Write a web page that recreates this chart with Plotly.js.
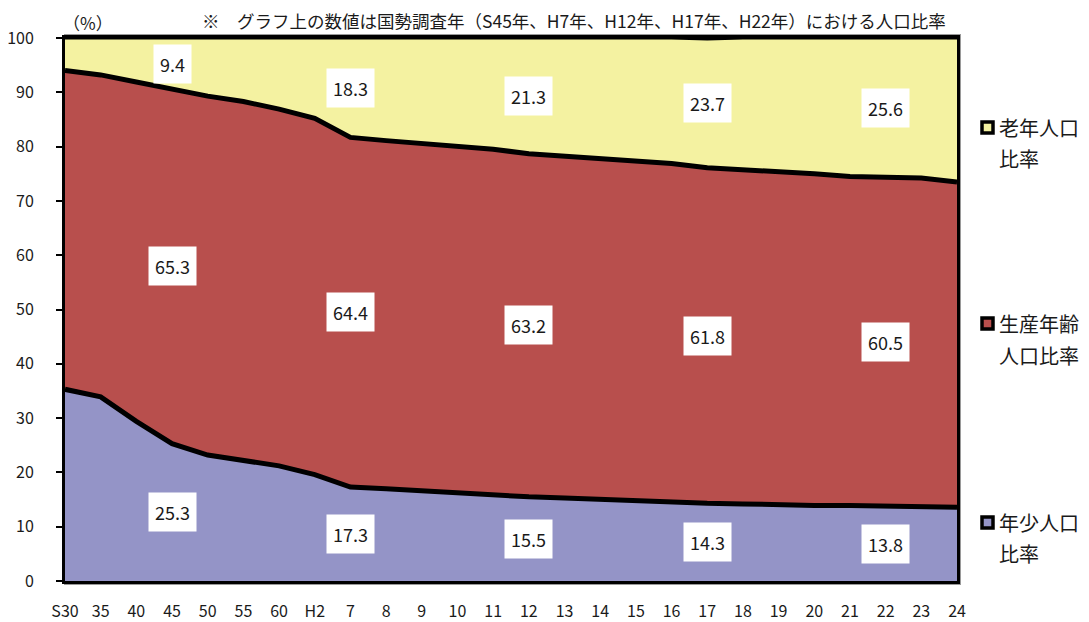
<!DOCTYPE html>
<html>
<head>
<meta charset="utf-8">
<script src="https://cdn.plot.ly/plotly-3.0.1.min.js"></script>
<style>html,body{margin:0;padding:0;background:#fff;}#chart{width:1089px;height:622px;}</style>
</head>
<body>
<div id="chart"></div>
<script>
// ---- data ----
const years = ['S30','35','40','45','50','55','60','H2','7','8','9','10','11','12','13','14','15','16','17','18','19','20','21','22','23','24'];
const young   = [35.3,33.9,29.4,25.3,23.2,22.2,21.2,19.6,17.3,17.0,16.6,16.3,15.9,15.5,15.3,15.0,14.8,14.6,14.3,14.2,14.0,13.9,13.9,13.8,13.7,13.6];
const working = [58.7,59.3,62.5,65.3,66.1,66.1,65.7,65.6,64.4,64.1,64.0,63.8,63.6,63.2,63.0,62.7,62.5,62.3,61.8,61.6,61.3,61.1,60.6,60.5,60.5,59.9];
const elderly = [6.0,6.8,8.1,9.4,10.7,11.7,13.1,14.8,18.3,18.9,19.4,19.9,20.5,21.3,21.7,22.3,22.7,23.1,23.7,24.2,24.7,25.0,25.5,25.6,25.8,26.5];
const seriesNames = ['年少人口比率','生産年齢人口比率','老年人口比率'];
const labelYears = ['45','7','12','17','22'];   // census years with data labels
const yTicks = [0,10,20,30,40,50,60,70,80,90,100];

const colors = {young:'#9494C7', working:'#B84F4D', elderly:'#F4F2A1'};

const traces = [
  {x: years, y: young, name: seriesNames[0], stackgroup:'one', mode:'lines',
   line:{color:'#000', width:5, shape:'linear'}, fillcolor: colors.young},
  {x: years, y: working, name: seriesNames[1], stackgroup:'one', mode:'lines',
   line:{color:'#000', width:5}, fillcolor: colors.working},
  {x: years, y: elderly, name: seriesNames[2], stackgroup:'one', mode:'lines',
   line:{color:'#000', width:3}, fillcolor: colors.elderly}
];

// plot-area pixel geometry
const L = 65, R = 957, T = 38, B = 581;
const W = 1089, H = 622;
const px = v => (v - L) / (R - L);
const py = v => (B - v) / (B - T);

const annotations = [];
const labelFont = {family:'Noto Sans CJK JP, sans-serif', size:18, color:'#1a1a1a'};
labelYears.forEach(yr => {
  const i = years.indexOf(yr);
  const a = young[i], b = a + working[i], c = b + elderly[i];
  [[a/2, young[i]], [(a+b)/2, working[i]], [(b+c)/2, elderly[i]]].forEach(([yy, v]) => {
    annotations.push({x: i, y: yy, xref:'x', yref:'y', text: v.toFixed(1), showarrow:false,
      bgcolor:'#ffffff', borderpad:6, font: labelFont, xanchor:'center', yanchor:'middle'});
  });
});

const cjk = 'Noto Sans CJK JP, sans-serif';
annotations.push({xref:'paper', yref:'paper', x:px(574), y:py(20), xanchor:'center', yanchor:'middle', showarrow:false,
  text:'※　グラフ上の数値は国勢調査年（S45年、H7年、H12年、H17年、H22年）における人口比率',
  font:{family:cjk, size:17.5, color:'#1a1a1a'}});
annotations.push({xref:'paper', yref:'paper', x:px(88), y:py(22), xanchor:'center', yanchor:'middle', showarrow:false,
  text:'（%）', font:{family:cjk, size:17, color:'#1a1a1a'}});

// legend (right side)
const legendItems = [
  {l1:'老年人口', l2:'比率', y1:127, y2:158, color: colors.elderly},
  {l1:'生産年齢', l2:'人口比率', y1:323, y2:355, color: colors.working},
  {l1:'年少人口', l2:'比率', y1:522, y2:553, color: colors.young}
];
const shapes = [
  {type:'rect', xref:'paper', yref:'paper', x0:px(L), x1:px(R+3), y0:py(B+3), y1:py(T-3),
   line:{color:'#9a9a9a', width:2}, layer:'below'}
];
legendItems.forEach(it => {
  annotations.push({xref:'paper', yref:'paper', x:px(997), y:py(it.y1), xanchor:'left', yanchor:'middle', showarrow:false,
    text: it.l1, font:{family:cjk, size:20, color:'#1a1a1a'}});
  annotations.push({xref:'paper', yref:'paper', x:px(997), y:py(it.y2), xanchor:'left', yanchor:'middle', showarrow:false,
    text: it.l2, font:{family:cjk, size:20, color:'#1a1a1a'}});
  shapes.push({type:'rect', xref:'paper', yref:'paper', x0:px(982), x1:px(993), y0:py(it.y1+6), y1:py(it.y1-5),
    fillcolor: it.color, line:{color:'#000', width:3.5}});
});

const tickFont = {family:'Noto Sans CJK JP, sans-serif', size:16, color:'#1a1a1a'};

const layout = {
  width: W, height: H,
  margin:{l:L, r:W-R, t:T, b:H-B, pad:0},
  paper_bgcolor:'#fff', plot_bgcolor:'#fff',
  showlegend:false,
  xaxis:{type:'category', range:[0, years.length-1], showgrid:false, zeroline:false,
    showline:true, linecolor:'#000', linewidth:3, mirror:true, ticks:'',
    tickfont: tickFont, ticklabelstandoff:14, fixedrange:true},
  yaxis:{range:[0,100], tickvals: yTicks, showgrid:false, zeroline:false,
    showline:true, linecolor:'#000', linewidth:3, mirror:true,
    ticks:'outside', ticklen:6, tickwidth:2, tickcolor:'#000',
    tickfont: tickFont, ticklabelstandoff:19, fixedrange:true},
  annotations: annotations,
  shapes: shapes
};

Plotly.newPlot('chart', traces, layout, {staticPlot:true, displayModeBar:false});
</script>
</body>
</html>
